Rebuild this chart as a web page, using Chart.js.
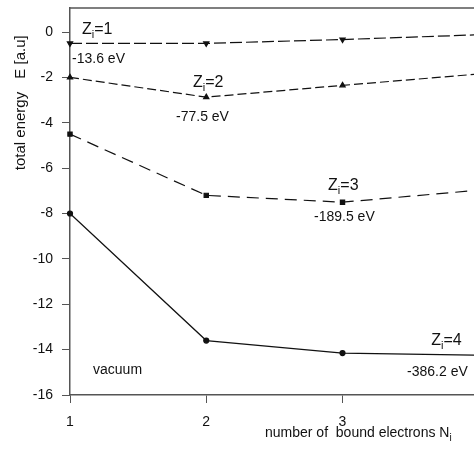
<!DOCTYPE html>
<html>
<head>
<meta charset="utf-8">
<script src="https://cdn.jsdelivr.net/npm/chart.js@4.4.1/dist/chart.umd.min.js"></script>
<style>
    html, body { margin: 0; padding: 0; background: #fff; overflow: hidden; }
    #wrap { position: relative; width: 474px; height: 452px; }
</style>
</head>
<body>
<div id="wrap"><canvas id="chart"></canvas></div>
<script>
// number of bound electrons
const electrons = [1, 2, 3, 4];
// total energy [a.u.] for each ion charge
const energyZ1 = [-0.5, -0.5, -0.33, -0.12];
const energyZ2 = [-2.0, -2.87, -2.35, -1.85];
const energyZ3 = [-4.5, -7.2, -7.5, -6.97];
const energyZ4 = [-8.0, -13.6, -14.15, -14.25];
const yTicks = [-16, -14, -12, -10, -8, -6, -4, -2, 0];
const xTicks = [1, 2, 3];

// text labels, anchored in data units
const notes = [
    { z: '1', x: 1.088, y: -0.09 },
    { z: '2', x: 1.903, y: -2.42 },
    { z: '3', x: 2.894, y: -6.96 },
    { z: '4', x: 3.651, y: -13.79 }
];
const evNotes = [
    { text: '-13.6 eV', x: 1.015, y: -1.37 },
    { text: '-77.5 eV', x: 1.778, y: -3.92 },
    { text: '-189.5 eV', x: 2.791, y: -8.33 },
    { text: '-386.2 eV', x: 3.474, y: -15.16 },
    { text: 'vacuum', x: 1.169, y: -15.07 }
];

const FONT = '"Liberation Sans", Arial, Helvetica, sans-serif';
const INK = '#111';
const AXIS = '#555';

const toPts = (ys) => ys.map((y, i) => ({ x: electrons[i], y: y }));

const series = (data, style, dash) => ({
    data: toPts(data),
    borderColor: INK,
    backgroundColor: INK,
    borderWidth: 1.2,
    borderDash: dash,
    pointStyle: style.shape,
    rotation: style.rot || 0,
    pointRadius: style.r,
    pointHoverRadius: style.r,
    tension: 0,
    // the plot is cut off on the right, like the source figure
    clip: { left: 6, top: 6, right: 0, bottom: 6 }
});

// kill the extra room Chart.js keeps for edge labels
const noPad = (s) => { s.paddingTop = 0; s.paddingBottom = 0; s.paddingLeft = 0; s.paddingRight = 0; };

const textPlugin = {
    id: 'texts',
    afterDraw(chart) {
        const { ctx, chartArea: a, scales: { x, y } } = chart;
        ctx.save();

        // top frame line
        ctx.strokeStyle = AXIS;
        ctx.lineWidth = 1.5;
        ctx.beginPath();
        ctx.moveTo(a.left, a.top);
        ctx.lineTo(chart.width, a.top);
        ctx.stroke();

        ctx.fillStyle = INK;
        ctx.textBaseline = 'alphabetic';
        ctx.textAlign = 'left';

        // Z_i=n labels
        notes.forEach(n => {
            let px = x.getPixelForValue(n.x);
            const py = y.getPixelForValue(n.y);
            ctx.font = `16px ${FONT}`;
            ctx.fillText('Z', px, py);
            px += ctx.measureText('Z').width;
            ctx.font = `11px ${FONT}`;
            ctx.fillText('i', px, py + 4);
            px += ctx.measureText('i').width;
            ctx.font = `16px ${FONT}`;
            ctx.fillText('=' + n.z, px, py);
        });

        ctx.font = `14px ${FONT}`;
        evNotes.forEach(n => {
            ctx.fillText(n.text, x.getPixelForValue(n.x), y.getPixelForValue(n.y));
        });

        // x axis title
        let tx = 265;
        const ty = 437;
        ctx.font = `14px ${FONT}`;
        const xt = 'number of  bound electrons N';
        ctx.fillText(xt, tx, ty);
        tx += ctx.measureText(xt).width;
        ctx.font = `10px ${FONT}`;
        ctx.fillText('i', tx, ty + 4);

        // y axis title
        ctx.translate(25, 0);
        ctx.rotate(-Math.PI / 2);
        ctx.textAlign = 'center';
        ctx.font = `15px ${FONT}`;
        ctx.fillText('total energy', -131, 0);
        ctx.fillText('E [a.u]', -57, 0);

        ctx.restore();
    }
};

new Chart(document.getElementById('chart'), {
    type: 'line',
    data: {
        datasets: [
            series(energyZ1, { shape: 'triangle', rot: 180, r: 3 }, [12, 4]),
            series(energyZ2, { shape: 'triangle', r: 3 }, [9, 4]),
            series(energyZ3, { shape: 'rect', r: 3 }, [12, 7]),
            series(energyZ4, { shape: 'circle', r: 2.5 }, [])
        ]
    },
    options: {
        responsive: true,
        maintainAspectRatio: false,
        animation: false,
        layout: { autoPadding: false, padding: { top: 8, right: 0, left: 0, bottom: 0 } },
        plugins: {
            legend: { display: false },
            tooltip: { enabled: false }
        },
        scales: {
            x: {
                type: 'linear',
                min: 1,
                max: 3.965,
                afterBuildTicks: (s) => { s.ticks = xTicks.map(v => ({ value: v })); },
                afterFit: (s) => { s.height = 57; noPad(s); },
                grid: { drawOnChartArea: false, tickLength: 8, color: AXIS, lineWidth: 1 },
                border: { display: true, color: AXIS, width: 1.5 },
                ticks: { color: INK, font: { family: FONT, size: 14 }, padding: 11, maxRotation: 0 }
            },
            y: {
                min: -16,
                max: 1.06,
                afterBuildTicks: (s) => { s.ticks = yTicks.map(v => ({ value: v })); },
                afterFit: (s) => { s.width = 70; noPad(s); },
                grid: { drawOnChartArea: false, tickLength: 8, color: AXIS, lineWidth: 1 },
                border: { display: true, color: AXIS, width: 1.5 },
                ticks: { color: INK, font: { family: FONT, size: 14 }, padding: 9 }
            }
        }
    },
    plugins: [textPlugin]
});
</script>
</body>
</html>
